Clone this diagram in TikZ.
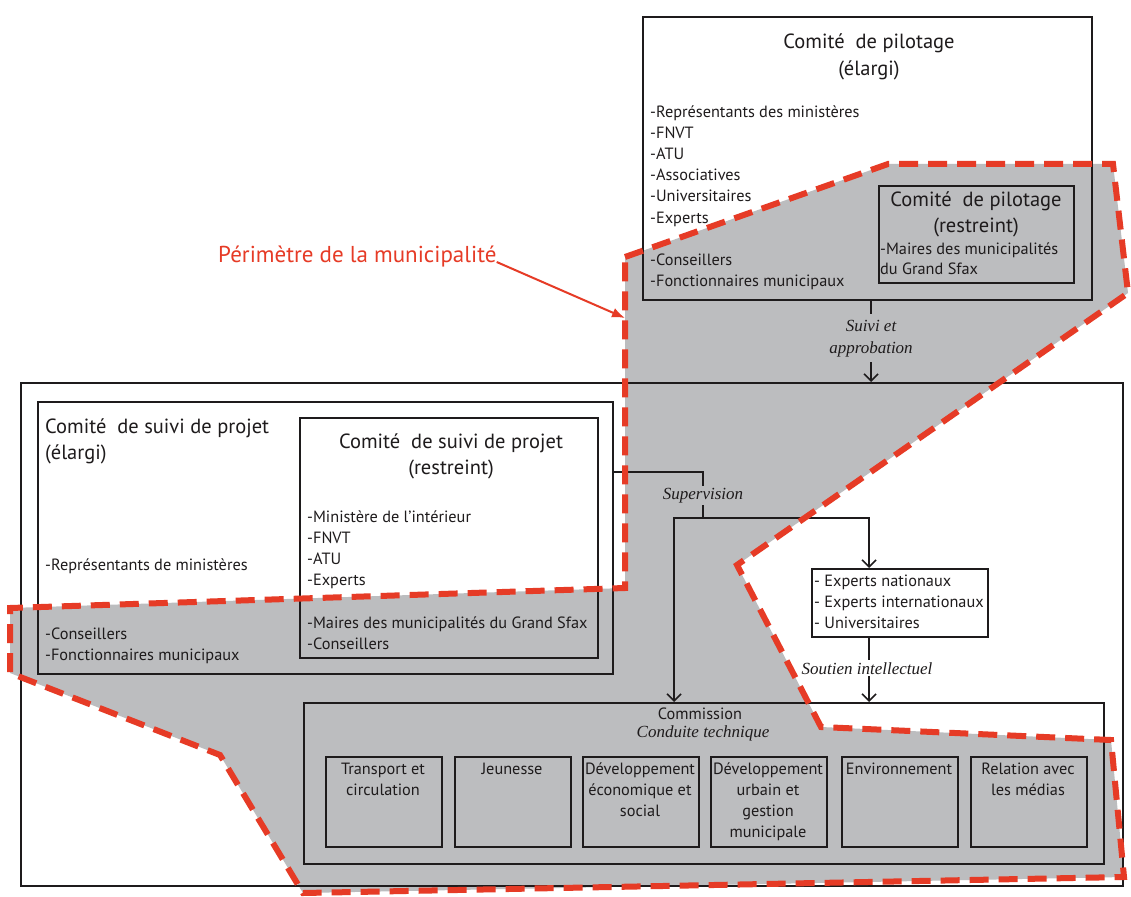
\documentclass[tikz,border=0pt]{standalone}
\usepackage{fontspec}
\setmainfont{PT Sans}
\newfontfamily\serifit{Liberation Serif}
\usetikzlibrary{arrows.meta}
\definecolor{ink}{HTML}{1E1B1C}
\definecolor{zone}{HTML}{BCBDBF}
\definecolor{perim}{HTML}{E63B26}
\newcommand{\Lst}[1]{\begin{tabular}[t]{@{}l@{}}#1\end{tabular}}
\newcommand{\Ctr}[1]{\begin{tabular}[t]{@{}c@{}}#1\end{tabular}}
\begin{document}
\begin{tikzpicture}[x=1pt,y=-1pt,
 box/.style={draw=ink, line width=1.9pt, inner sep=0pt, anchor=north west},
 txt/.style={text=ink, inner sep=0pt, font=\fontsize{16.3}{21}\selectfont},
 ttl/.style={text=ink, inner sep=0pt, font=\fontsize{20.5}{26.5}\selectfont},
 lab/.style={text=ink, inner sep=2pt, font=\serifit\itshape\fontsize{17}{22}\selectfont},
 conn/.style={draw=ink, line width=1.6pt},
 arr/.style={conn, -{Straight Barb[length=7pt,width=14pt]}},
 border/.style={draw=perim, line width=6pt, dash pattern=on 19pt off 10pt, line join=miter},
]
\useasboundingbox[fill=white] (0,0) rectangle (1131,896);

% municipal perimeter (fill)
\fill[zone] (625,257) -- (888,164) -- (1113,164) -- (1128,293) -- (737,565) -- (821,727) -- (1111,740) -- (1124,877) -- (303,893) -- (220,755) -- (10,673) -- (10,608) -- (625,588) -- cycle;

% boxes
\node[box, minimum width=1102pt, minimum height=503pt] (outer) at (20,382) {};
\node[box, minimum width=449pt, minimum height=283pt] (pilE) at (642,16) {};
\node[box, minimum width=195pt, minimum height=97pt] (pilR) at (878,185) {};
\node[box, minimum width=575pt, minimum height=272pt] (suiviE) at (37,401) {};
\node[box, minimum width=298pt, minimum height=240pt] (suiviR) at (299,417) {};
\node[box, minimum width=176pt, minimum height=68pt] (experts) at (811,568) {};
\node[box, minimum width=800pt, minimum height=161pt] (comm) at (303,702) {};
\foreach \n/\x in {1/325,2/454,3/582,4/710,5/841,6/970}
  \node[box, minimum width=116pt, minimum height=90pt] (t\n) at (\x,756) {};

% texts: comite de pilotage
\node[ttl, anchor=base] (pilEt) at (869,49) {\Ctr{Comité\ \ de pilotage\\(élargi)}};
\node[txt, anchor=base west] (pilEl) at (650,118) {\Lst{-Représentants des ministères\\-FNVT\\-ATU\\-Associatives\\-Universitaires\\-Experts}};
\node[txt, anchor=base west] (pilEm) at (650,265) {\Lst{-Conseillers\\-Fonctionnaires municipaux}};
\node[ttl, anchor=base] (pilRt) at (976,206) {\Ctr{Comité\ \ de pilotage\\(restreint)}};
\node[txt, anchor=base west, font=\fontsize{16.3}{20}\selectfont] (pilRl) at (880,254) {\Lst{-Maires des municipalités\\du Grand Sfax}};

% texts: comite de suivi
\node[ttl, anchor=base west] (suiviEt) at (45,433) {\Lst{Comité\ \ de suivi de projet\\(élargi)}};
\node[txt, anchor=base west] (suiviEl) at (45,570) {-Représentants de ministères};
\node[txt, anchor=base west] (suiviEm) at (45,639) {\Lst{-Conseillers\\-Fonctionnaires municipaux}};
\node[ttl, anchor=base] (suiviRt) at (451,448) {\Ctr{Comité\ \ de suivi de projet\\(restreint)}};
\node[txt, anchor=base west] (suiviRl) at (307,522) {\Lst{-Ministère de l’intérieur\\-FNVT\\-ATU\\-Experts}};
\node[txt, anchor=base west] (suiviRm) at (307,628) {\Lst{-Maires des municipalités du Grand Sfax\\-Conseillers}};

% experts
\node[txt, anchor=base west] (expl) at (814,586) {\Lst{- Experts nationaux\\- Experts internationaux\\- Universitaires}};

% commission
\node[txt, anchor=base] (commt) at (700,719) {Commission};
\node[lab, inner sep=0pt, anchor=base] (comms) at (703,737) {Conduite technique};
\node[txt, anchor=base] (t1l) at (383,774) {\Ctr{Transport et\\circulation}};
\node[txt, anchor=base] (t2l) at (512,774) {\Ctr{Jeunesse}};
\node[txt, anchor=base] (t3l) at (640,774) {\Ctr{Développement\\économique et\\social}};
\node[txt, anchor=base] (t4l) at (768,774) {\Ctr{Développement\\urbain et\\gestion\\municipale}};
\node[txt, anchor=base] (t5l) at (899,774) {\Ctr{Environnement}};
\node[txt, anchor=base] (t6l) at (1028,774) {\Ctr{Relation avec\\les médias}};

% connectors
\coordinate (ax) at (871,0);
\draw[arr] (pilE.south -| ax) -- (outer.north -| ax);
\node[lab, fill=zone, anchor=base] (suivi) at (871,331) {\Ctr{Suivi et\\approbation}};

\coordinate (sv1) at (703,472);
\coordinate (sv2) at (703,518);
\coordinate (bl) at (674,518);
\coordinate (br) at (869,518);
\draw[conn] (suiviE.east |- sv1) -- (sv1) -- (sv2);
\draw[arr] (sv2) -- (bl) -- (comm.north -| bl);
\draw[arr] (sv2) -- (br) -- (experts.north -| br);
\node[lab, fill=zone, anchor=base] (superv) at (703,499) {Supervision};
\draw[arr] (experts.south -| br) -- (comm.north -| br);
\node[lab, fill=white, anchor=base] (soutien) at (867,674) {Soutien intellectuel};

% perimeter border and label
\draw[border] (625,257) -- (888,164) -- (1113,164) -- (1128,293) -- (737,565) -- (821,727) -- (1111,740) -- (1124,877) -- (303,893) -- (220,755) -- (10,673) -- (10,608) -- (625,588) -- cycle;
\node[anchor=base west, inner sep=0pt, text=perim, font=\fontsize{23}{28}\selectfont] (perimL) at (218,262) {Périmètre de la municipalité};
\coordinate (perimTip) at (625,318);
\draw[perim, line width=2pt, -{Latex[length=13pt,width=10pt]}] (perimL.base east) -- (perimTip);
\end{tikzpicture}
\end{document}
